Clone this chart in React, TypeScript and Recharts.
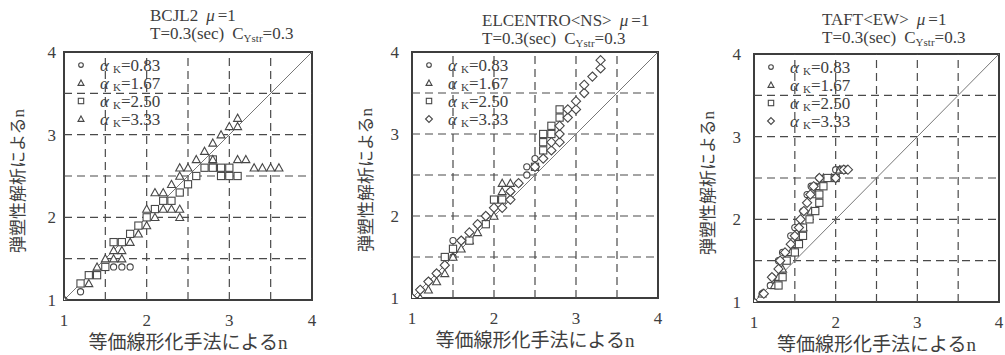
import React from 'react'
import { Legend, ReferenceArea, ReferenceLine, Scatter, ScatterChart, XAxis, YAxis } from 'recharts'

// [x, y] pairs
const bcjlA083 = [[1, 1], [1.2, 1.1], [1.6, 1.4], [1.7, 1.4], [1.8, 1.4]]
const bcjlA167 = [
  [1, 1], [1.3, 1.2], [1.4, 1.4], [1.5, 1.5], [1.6, 1.5], [1.7, 1.5], [1.6, 1.6], [1.7, 1.6],
  [1.8, 1.7], [1.9, 1.8], [2.0, 1.9], [2.1, 2.0], [2.0, 2.1], [2.4, 2.0],
]
const bcjlA250 = [
  [1.2, 1.2], [1.3, 1.3], [1.4, 1.3], [1.5, 1.4], [1.6, 1.7], [1.7, 1.7], [1.8, 1.8], [1.9, 1.9],
  [2.0, 2.0], [2.1, 2.1], [2.2, 2.2], [2.3, 2.2], [2.4, 2.3], [2.5, 2.4], [2.6, 2.5], [2.7, 2.6],
  [2.8, 2.6], [2.9, 2.6], [3.0, 2.6], [2.8, 2.7], [2.9, 2.5], [3.0, 2.5], [3.1, 2.5],
]
const bcjlA333 = [
  [2.2, 2.1], [2.3, 2.1], [2.4, 2.1], [2.1, 2.3], [2.2, 2.3], [2.3, 2.4], [2.4, 2.5], [2.4, 2.6],
  [2.5, 2.6], [2.6, 2.7], [2.7, 2.8], [2.8, 2.9], [2.9, 3.0], [3.0, 3.1], [3.1, 3.1], [3.1, 3.2],
  [2.8, 2.7], [3.1, 2.7], [3.2, 2.7], [3.3, 2.6], [3.4, 2.6], [3.5, 2.6], [3.6, 2.6],
]

const elcA083 = [
  [1, 1], [1.1, 1.1], [1.2, 1.2], [1.3, 1.3], [1.4, 1.4], [1.5, 1.5], [1.5, 1.7], [1.6, 1.7],
  [1.8, 1.9], [1.9, 2.0], [2.0, 2.2], [2.2, 2.3], [2.3, 2.4], [2.4, 2.5], [2.4, 2.6], [2.5, 2.6], [2.5, 2.7],
]
const elcA167 = [
  [1.1, 1.0], [1.2, 1.1], [1.3, 1.2], [1.4, 1.3], [1.5, 1.5], [1.6, 1.6], [1.7, 1.7], [1.8, 1.8],
  [2.0, 2.0], [2.1, 2.3], [2.1, 2.4], [2.2, 2.4],
]
const elcA250 = [
  [1.4, 1.5], [1.5, 1.6], [1.7, 1.7], [1.9, 1.9], [2.0, 2.2], [2.1, 2.2], [2.5, 2.6], [2.6, 2.8],
  [2.6, 2.9], [2.6, 3.0], [2.7, 3.0], [2.7, 3.1], [2.8, 3.2], [2.8, 3.3],
]
const elcA333 = [
  [1, 1], [1.1, 1.1], [1.2, 1.2], [1.3, 1.3], [1.4, 1.4], [1.6, 1.7], [1.7, 1.8], [1.8, 1.9],
  [1.9, 2.0], [2.0, 2.1], [2.1, 2.1], [2.2, 2.2], [2.2, 2.3], [2.3, 2.4], [2.5, 2.6], [2.6, 2.7],
  [2.7, 2.8], [2.7, 2.9], [2.8, 2.9], [2.8, 3.0], [2.8, 3.1], [2.9, 3.2], [2.9, 3.3], [3.0, 3.3],
  [3.0, 3.4], [3.1, 3.5], [3.1, 3.6], [3.2, 3.7], [3.3, 3.8], [3.3, 3.9],
]

const taftA083 = [
  [1, 1], [1.1, 1.1], [1.2, 1.2], [1.22, 1.3], [1.3, 1.5], [1.35, 1.6], [1.45, 1.8], [1.5, 1.9],
  [1.6, 2.1], [1.65, 2.3], [1.7, 2.4], [1.75, 2.4], [1.8, 2.5], [1.9, 2.5], [2.0, 2.6], [2.05, 2.6],
]
const taftA167 = [
  [1.1, 1.1], [1.25, 1.2], [1.3, 1.3], [1.35, 1.4], [1.45, 1.6], [1.5, 1.7], [1.55, 1.8], [1.6, 1.9],
  [1.7, 2.1], [1.75, 2.3], [1.8, 2.4], [1.85, 2.5], [1.95, 2.5], [2.05, 2.6],
]
const taftA250 = [
  [1.3, 1.2], [1.35, 1.3], [1.4, 1.5], [1.5, 1.6], [1.55, 1.7], [1.6, 1.8], [1.6, 1.9], [1.68, 2.0],
  [1.75, 2.1], [1.8, 2.2], [1.8, 2.3], [1.85, 2.4], [1.9, 2.5], [2.0, 2.5], [2.1, 2.6],
]
const taftA333 = [
  [1.12, 1.1], [1.22, 1.3], [1.3, 1.4], [1.32, 1.5], [1.38, 1.6], [1.45, 1.7], [1.5, 1.8], [1.55, 1.9],
  [1.57, 2.0], [1.61, 2.1], [1.65, 2.2], [1.69, 2.3], [1.73, 2.4], [1.8, 2.5], [2.0, 2.5], [2.1, 2.6],
  [2.15, 2.6],
]

const alphaLabels = ['0.83', '1.67', '2.50', '3.33']
const axisTicks = [1, 2, 3, 4]
const gridValues = [1.5, 2, 2.5, 3, 3.5]
const xTitle = '等価線形化手法によるn'
const yTitle = '弾塑性解析によるn'

const INK = '#3e3e3e'
const SERIF = "'Liberation Serif', 'Noto Sans CJK JP', serif"

type Kind = 'circle' | 'triangle' | 'square' | 'diamond'

const toPoints = (arr: number[][]) => arr.map(([x, y]) => ({ x, y }))

function Marker({ cx, cy, kind, s = 1 }: { cx: number; cy: number; kind: Kind; s?: number }) {
  const common = { fill: '#fff', stroke: '#474747', strokeWidth: 1.1 }
  if (kind === 'circle') return <circle cx={cx} cy={cy} r={3.1 * s} {...common} />
  if (kind === 'square') {
    const h = 3.6 * s
    return <rect x={cx - h} y={cy - h} width={2 * h} height={2 * h} {...common} />
  }
  if (kind === 'diamond') {
    const h = 4.6 * s
    return <polygon points={`${cx},${cy - h} ${cx + h},${cy} ${cx},${cy + h} ${cx - h},${cy}`} {...common} />
  }
  const h = 4 * s
  return <polygon points={`${cx},${cy - h} ${cx + h},${cy + 0.8 * h} ${cx - h},${cy + 0.8 * h}`} {...common} />
}

type PanelProps = {
  chartLeft: number
  plot: { left: number; top: number; right: number; bottom: number }
  series: number[][][]
  kinds: Kind[]
  tickGap: number
}

function Panel({ chartLeft, plot, series, kinds, tickGap }: PanelProps) {
  const W = 335
  const H = 355
  const yw = 40
  const xh = 40
  const margin = {
    top: plot.top,
    left: plot.left - chartLeft - yw,
    right: chartLeft + W - plot.right,
    bottom: H - plot.bottom - xh,
  }
  const px = plot.left - chartLeft
  const rows = [13, 31, 49, 67]

  return (
    <div style={{ position: 'absolute', left: chartLeft, top: 0, fontFamily: SERIF }}>
      <ScatterChart width={W} height={H} margin={margin} style={{ fontFamily: SERIF }}>
        <XAxis
          type="number"
          dataKey="x"
          domain={[1, 4]}
          ticks={axisTicks}
          allowDataOverflow
          axisLine={false}
          tickLine={false}
          tickMargin={8}
          height={xh}
          tick={{ fill: INK, fontSize: 17, fontFamily: SERIF }}
          label={(p: any) => {
            const vb = p.viewBox
            return (
              <text x={vb.x + vb.width / 2} y={plot.bottom + 49} textAnchor="middle" fill={INK} fontSize={19} fontFamily={SERIF}>
                {xTitle}
              </text>
            )
          }}
        />
        <YAxis
          type="number"
          dataKey="y"
          domain={[1, 4]}
          ticks={axisTicks}
          allowDataOverflow
          axisLine={false}
          tickLine={false}
          tickMargin={tickGap}
          width={yw}
          tick={{ fill: INK, fontSize: 17, fontFamily: SERIF }}
          label={(p: any) => {
            const vb = p.viewBox
            const cx = vb.x + vb.width - 46
            const cy = vb.y + vb.height / 2 + 5
            return (
              <text x={cx} y={cy} transform={`rotate(-90 ${cx} ${cy})`} dy={6} textAnchor="middle" fill={INK} fontSize={17} fontFamily={SERIF}>
                {yTitle}
              </text>
            )
          }}
        />
        {gridValues.map((v) => (
          <ReferenceLine key={`gx${v}`} x={v} stroke="#4a4a4a" strokeWidth={1.2} strokeDasharray="8 5" />
        ))}
        {gridValues.map((v) => (
          <ReferenceLine key={`gy${v}`} y={v} stroke="#4a4a4a" strokeWidth={1.2} strokeDasharray="8 5" />
        ))}
        <ReferenceLine segment={[{ x: 1, y: 1 }, { x: 4, y: 4 }]} stroke="#777" strokeWidth={1} />
        <ReferenceArea x1={1} x2={4} y1={1} y2={4} fill="none" stroke={INK} strokeWidth={2} />
        {series.map((s, i) => (
          <Scatter
            key={i}
            name={alphaLabels[i]}
            data={toPoints(s)}
            isAnimationActive={false}
            shape={(p: any) => <Marker cx={p.cx} cy={p.cy} kind={kinds[i]} />}
          />
        ))}
        <Legend
          layout="vertical"
          align="center"
          verticalAlign="middle"
          wrapperStyle={{ left: px, top: plot.top, width: 140, height: 80 }}
          content={() => (
            <svg width={140} height={80} style={{ display: 'block' }}>
              {alphaLabels.map((a, i) => (
                <g key={a}>
                  <Marker cx={17} cy={rows[i]} kind={kinds[i]} s={0.75} />
                  <text x={36} y={rows[i] + 6} fill={INK} fontFamily={SERIF} fontSize={17}>
                    <tspan fontStyle="italic">α</tspan>
                    <tspan dx={4} dy={2} fontSize={11}>K</tspan>
                    <tspan dy={-2}>={a}</tspan>
                  </text>
                </g>
              ))}
            </svg>
          )}
        />
      </ScatterChart>
    </div>
  )
}

function Title({ x, y, name }: { x: number; y: number; name: string }) {
  return (
    <g fill={INK} fontFamily={SERIF} fontSize={17}>
      <text x={x} y={y}>
        {name}
        <tspan dx={8} fontStyle="italic">μ</tspan>
        <tspan dx={3}>=1</tspan>
      </text>
      <text x={x} y={y + 18}>
        T=0.3(sec)
        <tspan dx={8}>C</tspan>
        <tspan dy={3} fontSize={11}>Ystr</tspan>
        <tspan dy={-3}>=0.3</tspan>
      </text>
    </g>
  )
}

export default function App() {
  return (
    <div style={{ position: 'absolute', left: 0, top: 0, width: 1005, height: 355, background: '#fff', overflow: 'hidden', fontFamily: SERIF }}>
      <Panel
        chartLeft={0}
        plot={{ left: 64, top: 52, right: 312, bottom: 300 }}
        series={[bcjlA083, bcjlA167, bcjlA250, bcjlA333]}
        kinds={['circle', 'triangle', 'square', 'triangle']}
        tickGap={2}
      />
      <Panel
        chartLeft={335}
        plot={{ left: 412, top: 52, right: 658, bottom: 298 }}
        series={[elcA083, elcA167, elcA250, elcA333]}
        kinds={['circle', 'triangle', 'square', 'diamond']}
        tickGap={7}
      />
      <Panel
        chartLeft={670}
        plot={{ left: 754, top: 54, right: 999, bottom: 302 }}
        series={[taftA083, taftA167, taftA250, taftA333]}
        kinds={['circle', 'triangle', 'square', 'diamond']}
        tickGap={7}
      />
      <svg width={1005} height={60} style={{ position: 'absolute', left: 0, top: 0, pointerEvents: 'none' }}>
        <Title x={150} y={21} name="BCJL2" />
        <Title x={482} y={26} name="ELCENTRO<NS>" />
        <Title x={822} y={25} name="TAFT<EW>" />
      </svg>
    </div>
  )
}
